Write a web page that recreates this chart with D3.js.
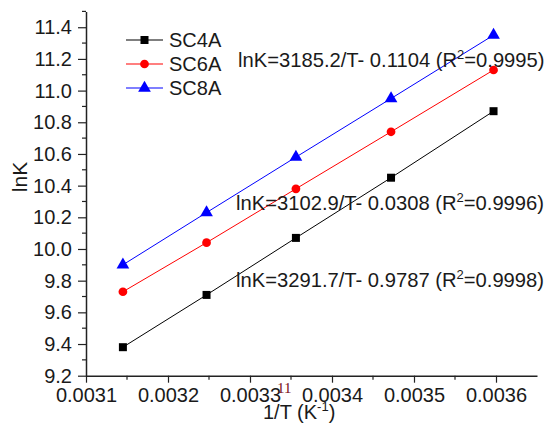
<!DOCTYPE html>
<html>
<head>
<meta charset="utf-8">
<script src="https://cdn.jsdelivr.net/npm/d3@7"></script>
<style>
  body { margin: 0; background: #fff; }
  text { font-family: "Liberation Sans", Arial, sans-serif; fill: #1a1a1a; }
</style>
</head>
<body>
<div id="visualization"></div>
<script>
// data
const invT = [0.003145, 0.003247, 0.003356, 0.003472, 0.003597];
const sc4a = [9.38, 9.71, 10.07, 10.45, 10.87];
const sc6a = [9.73, 10.04, 10.38, 10.74, 11.13];
const sc8a = [9.90, 10.23, 10.58, 10.95, 11.35];
const seriesNames = ['SC4A', 'SC6A', 'SC8A'];
const xTicks = [0.0031, 0.0032, 0.0033, 0.0034, 0.0035, 0.0036];
const yTicks = [9.2, 9.4, 9.6, 9.8, 10.0, 10.2, 10.4, 10.6, 10.8, 11.0, 11.2, 11.4];
const fits = [
    {a: '3185.2', b: '0.1104', r2: '0.9995'},
    {a: '3102.9', b: '0.0308', r2: '0.9996'},
    {a: '3291.7', b: '0.9787', r2: '0.9998'}
];

const width = 544, height = 423;
const fs = 20;

const svg = d3.select('#visualization')
    .append('svg')
    .attr('width', width)
    .attr('height', height);

// scales
const x = d3.scaleLinear().domain([0.0031, 0.00365]).range([86, 537]);
const y = d3.scaleLinear().domain([9.2, 11.5]).range([375.7, 11.4]);

// minor ticks
const xMinor = d3.range(0, 11).map(i => 0.00315 + i * 0.0001).filter(v => v < 0.00365);
const yMinor = d3.range(0, 12).map(i => 9.3 + i * 0.2);

svg.append('g').selectAll('line').data(xMinor).join('line')
    .attr('x1', d => x(d)).attr('x2', d => x(d))
    .attr('y1', y(9.2)).attr('y2', y(9.2) + 4)
    .attr('stroke', '#222').attr('stroke-width', 1.2);
svg.append('g').selectAll('line').data(yMinor).join('line')
    .attr('y1', d => y(d)).attr('y2', d => y(d))
    .attr('x1', x(0.0031)).attr('x2', x(0.0031) - 4)
    .attr('stroke', '#222').attr('stroke-width', 1.2);

// X axis
const xAxis = svg.append('g')
    .attr('transform', `translate(0,${y(9.2)})`)
    .call(d3.axisBottom(x).tickValues(xTicks).tickFormat(d3.format('.4f')).tickSize(7).tickSizeOuter(0).tickPadding(5));
xAxis.select('.domain').attr('stroke', '#222').attr('stroke-width', 1.5);
xAxis.selectAll('.tick line').attr('stroke', '#222').attr('stroke-width', 1.2);
xAxis.selectAll('.tick text').attr('font-size', fs).attr('font-family', 'Liberation Sans, Arial').attr('fill', '#1a1a1a');

// Y axis
const yAxis = svg.append('g')
    .attr('transform', `translate(${x(0.0031)},0)`)
    .call(d3.axisLeft(y).tickValues(yTicks).tickFormat(d3.format('.1f')).tickSize(8).tickSizeOuter(0).tickPadding(6));
yAxis.select('.domain').attr('stroke', '#222').attr('stroke-width', 1.5);
yAxis.selectAll('.tick line').attr('stroke', '#222').attr('stroke-width', 1.2);
yAxis.selectAll('.tick text').attr('font-size', fs).attr('font-family', 'Liberation Sans, Arial').attr('fill', '#1a1a1a');

// axis titles
svg.append('text')
    .attr('transform', `translate(27,177) rotate(-90)`)
    .attr('text-anchor', 'middle')
    .attr('font-size', 21)
    .text('lnK');

const xt = svg.append('text')
    .attr('x', 263).attr('y', 419)
    .attr('font-size', fs);
xt.append('tspan').text('1/T (K');
xt.append('tspan').attr('dy', -8).attr('font-size', 13).text('-1');
xt.append('tspan').attr('dy', 8).text(')');

// stray label fragment seen above the axis title
svg.append('text')
    .attr('x', 277).attr('y', 393)
    .attr('font-size', 15)
    .style('font-family', 'Liberation Serif, serif')
    .style('fill', '#7a1020')
    .text('11');

// series
const series = [
    {name: seriesNames[0], vals: sc4a, color: '#000000', shape: d3.symbolSquare, size: 64},
    {name: seriesNames[1], vals: sc6a, color: '#ff0000', shape: d3.symbolCircle, size: 60},
    {name: seriesNames[2], vals: sc8a, color: '#0000ff', shape: d3.symbolTriangle, size: 70}
];

const line = d3.line()
    .x(d => x(d[0]))
    .y(d => y(d[1]));

series.forEach(s => {
    const pts = invT.map((t, i) => [t, s.vals[i]]);
    svg.append('path')
        .datum(pts)
        .attr('d', line)
        .attr('fill', 'none')
        .attr('stroke', s.color)
        .attr('stroke-width', 1);
    svg.append('g').selectAll('path').data(pts).join('path')
        .attr('transform', d => `translate(${x(d[0])},${y(d[1])})`)
        .attr('d', d3.symbol().type(s.shape).size(s.size))
        .attr('fill', s.color);
});

// legend
const legend = svg.append('g').attr('transform', 'translate(126,40)');
series.forEach((s, i) => {
    const g = legend.append('g').attr('transform', `translate(0,${i * 24})`);
    g.append('line').attr('x1', 0).attr('x2', 37).attr('y1', 0).attr('y2', 0)
        .attr('stroke', s.color).attr('stroke-width', 1.2);
    g.append('path').attr('transform', 'translate(18.5,0)')
        .attr('d', d3.symbol().type(s.shape).size(s.size)).attr('fill', s.color);
    g.append('text').attr('x', 43).attr('y', 7).attr('font-size', fs).text(s.name);
});

// fit equations
const eqPos = [[238, 67], [236, 210], [236, 287]];
fits.forEach((f, i) => {
    const t = svg.append('text')
        .attr('x', eqPos[i][0]).attr('y', eqPos[i][1])
        .attr('font-size', 20.2);
    t.append('tspan').text(`lnK=${f.a}/T- ${f.b} (R`);
    t.append('tspan').attr('dy', -8).attr('font-size', 13).text('2');
    t.append('tspan').attr('dy', 8).text(`=${f.r2})`);
});
</script>
</body>
</html>
